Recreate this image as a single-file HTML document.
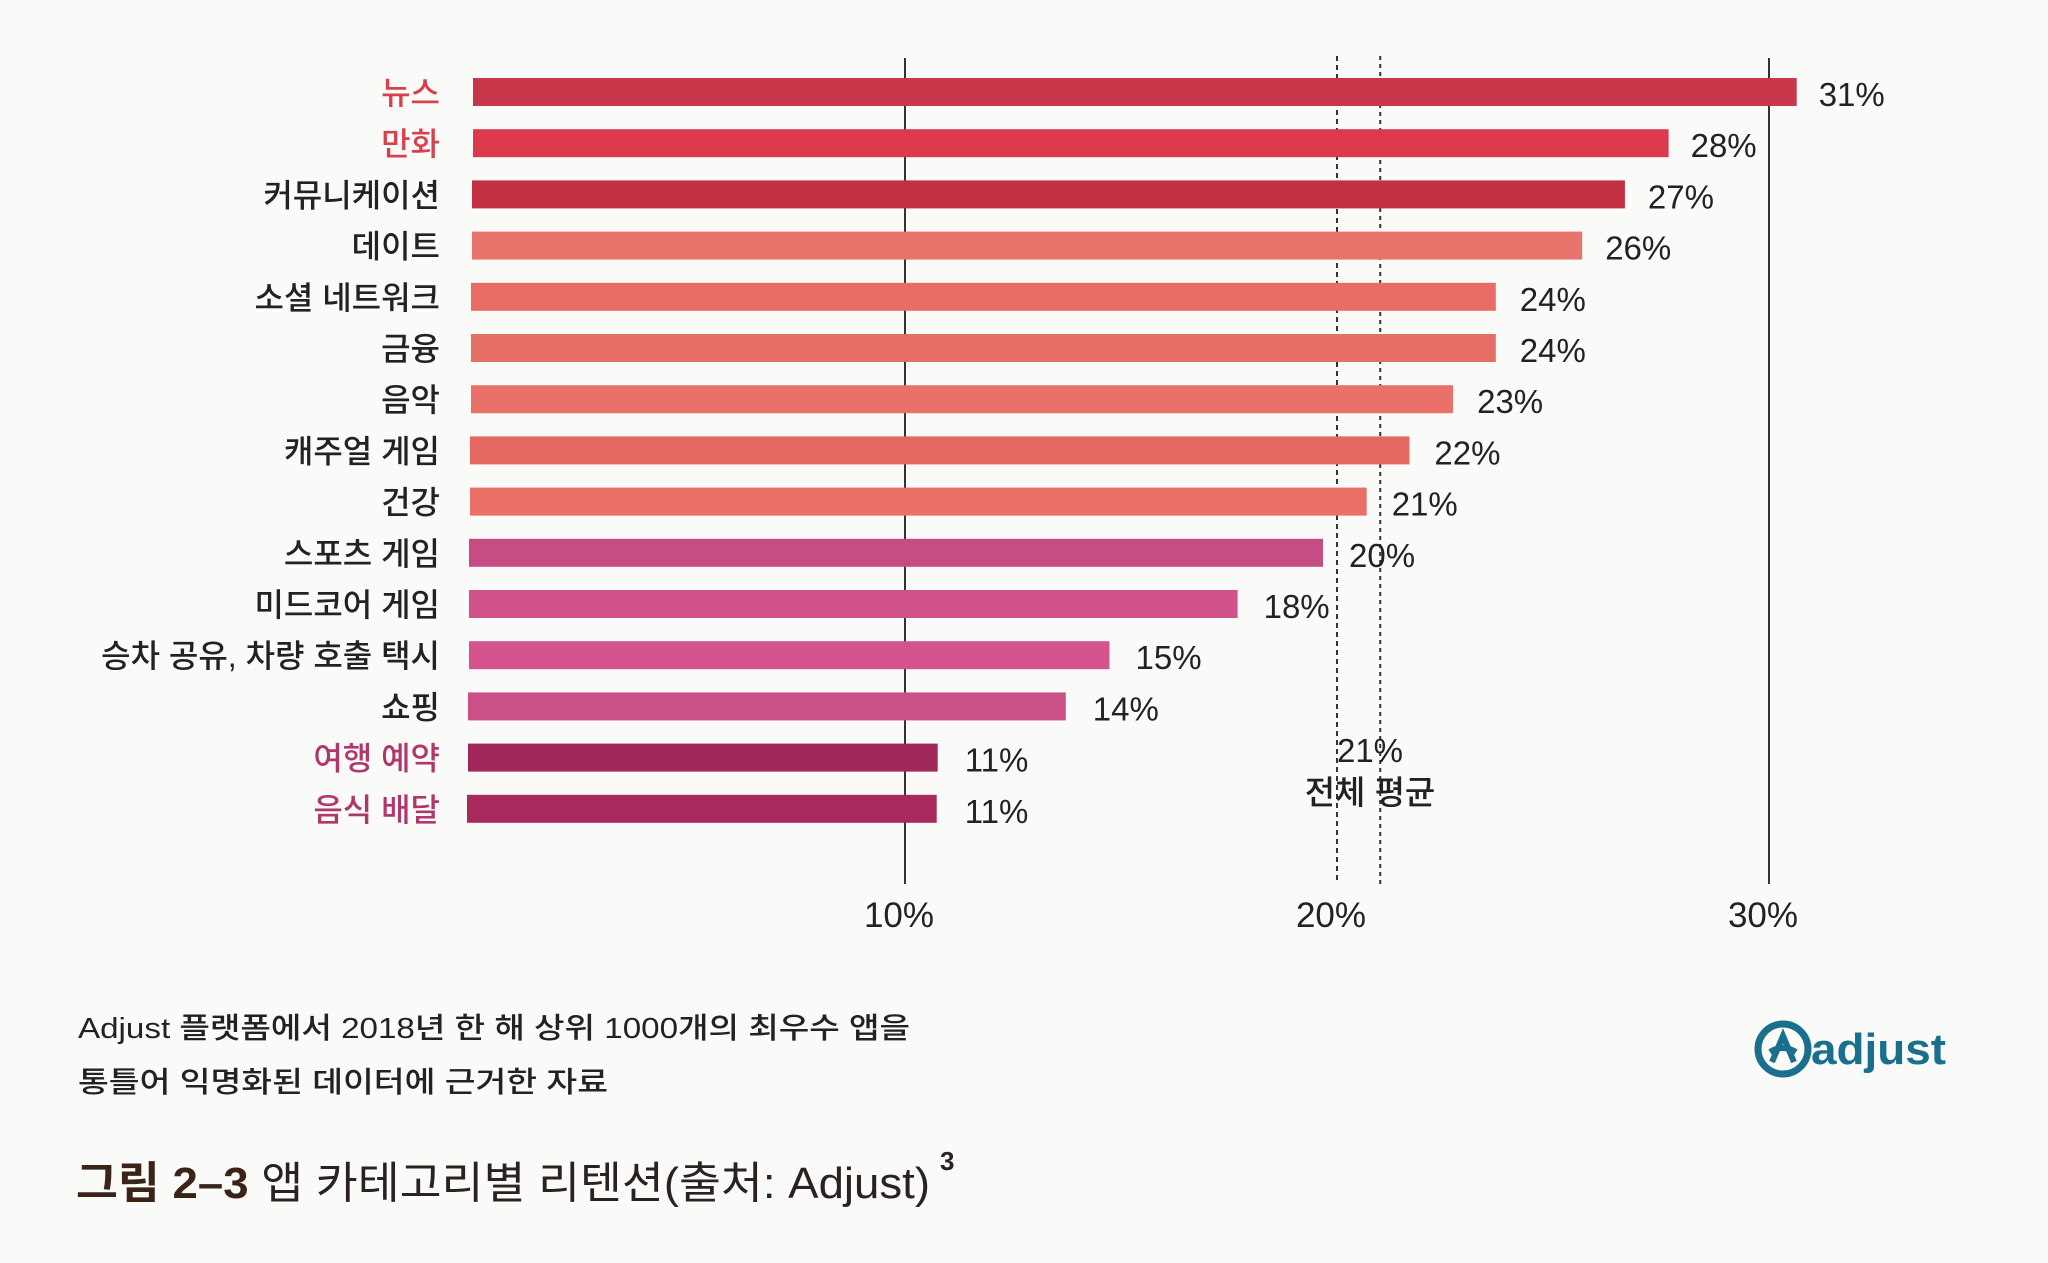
<!DOCTYPE html>
<html><head><meta charset="utf-8">
<style>
html,body{margin:0;padding:0;background:#fafaf9;}
svg{display:block;}
text{font-family:"Liberation Sans","Noto Sans CJK KR",sans-serif;}
</style></head>
<body>
<svg id="chart" width="2048" height="1263" viewBox="0 0 2048 1263" xmlns="http://www.w3.org/2000/svg">
<rect x="0" y="0" width="2048" height="1263" fill="#fafaf9"/>
<g id="grid"></g>
<g id="bars"></g>
<g id="labels"></g>
<g>
<text x="1370" y="762" font-size="33" text-anchor="middle" fill="#222">21%</text>
<text x="1370" y="804" font-size="33" text-anchor="middle" fill="#222" font-weight="500">전체 평균</text>
</g>
<text x="78" y="1038" font-size="29" fill="#222" font-weight="500" textLength="832" lengthAdjust="spacingAndGlyphs">Adjust 플랫폼에서 2018년 한 해 상위 1000개의 최우수 앱을</text>
<text x="78" y="1092" font-size="29" fill="#222" font-weight="500" textLength="530" lengthAdjust="spacingAndGlyphs">통틀어 익명화된 데이터에 근거한 자료</text>
<text x="76" y="1198" font-size="44" fill="#2a2220" textLength="854" lengthAdjust="spacingAndGlyphs"><tspan font-weight="bold" fill="#3a2418">그림 2–3</tspan> 앱 카테고리별 리텐션(출처: Adjust)</text>
<text x="940" y="1170" font-size="26" font-weight="bold" fill="#2a2220">3</text>
<g>
<circle cx="1783" cy="1049" r="25" fill="none" stroke="#1a6f8c" stroke-width="7"/>
<path d="M1772 1062 L1783 1036 L1794 1062 M1770 1052 Q1783 1044 1796 1052" fill="none" stroke="#1a6f8c" stroke-width="6"/>
<text x="1811" y="1064" font-size="44" font-weight="bold" fill="#1a6f8c" textLength="135" lengthAdjust="spacingAndGlyphs">adjust</text>
</g>
</svg>
<script>
const categories = ["뉴스","만화","커뮤니케이션","데이트","소셜 네트워크","금융","음악","캐주얼 게임","건강","스포츠 게임","미드코어 게임","승차 공유, 차량 호출  택시","쇼핑","여행 예약","음식 배달"];
const values = [31,28,27,26,24,24,23,22,21,20,18,15,14,11,11];
const valueLabels = ["31%","28%","27%","26%","24%","24%","23%","22%","21%","20%","18%","15%","14%","11%","11%"];
const barColors = ["#c8364a","#db3a4c","#c32f43","#e8736b","#e86d67","#e56e67","#ea716a","#e4685f","#e96f67","#c64d83","#d1528b","#d4548d","#cc5088","#9f275a","#a82a5c"];
const labelColors = ["#d8404e","#d8404e","#222","#222","#222","#222","#222","#222","#222","#222","#222","#222","#222","#b0376a","#b0376a"];
const ticks = [10,20,30];
const tickLabels = ["10%","20%","30%"];
const averageValue = 21;

const NS="http://www.w3.org/2000/svg";
const X0=473, PER=43.2, BPER=42.7, TOP=78, STEP=51.2, BH=28;
function x(v){return X0+v*PER;}
function xb(v){return X0+v*BPER;}
function y(i){return TOP+i*STEP;}
function mk(tag,attrs,parent){const e=document.createElementNS(NS,tag);for(const k in attrs)e.setAttribute(k,attrs[k]);parent.appendChild(e);return e;}
const grid=document.getElementById('grid'), bars=document.getElementById('bars'), labels=document.getElementById('labels');
ticks.forEach((t,i)=>{
  const ln=mk('line',{x1:x(t),x2:x(t),y1:(t===20?56:58),y2:884,stroke:'#333','stroke-width':2,'stroke-dasharray':(t===20?'5,4':'none')},grid);
  
  
  const tx=mk('text',{x:x(t)-6,y:927,'font-size':35,'text-anchor':'middle',fill:'#222'},grid);
  tx.textContent=tickLabels[i];
  
  
});
const avg=mk('line',{x1:x(averageValue),x2:x(averageValue),y1:56,y2:884,stroke:'#333','stroke-width':2,'stroke-dasharray':'4,4'},grid);


categories.forEach((c,i)=>{
  const r=mk('rect',{x:X0-Math.round(i*0.4),y:y(i),width:xb(values[i])-X0,height:BH,fill:barColors[i]},bars);
  
  
  const l=mk('text',{x:440,y:y(i)+BH/2+12,'font-size':32,'font-weight':'500','text-anchor':'end',fill:labelColors[i]},labels);
  l.textContent=c;
  
  
  const v=mk('text',{x:xb(values[i])+22,y:y(i)+BH/2+14,'font-size':33,fill:'#222'},labels);
  v.textContent=valueLabels[i];
  
  
});
</script>
</body></html>
